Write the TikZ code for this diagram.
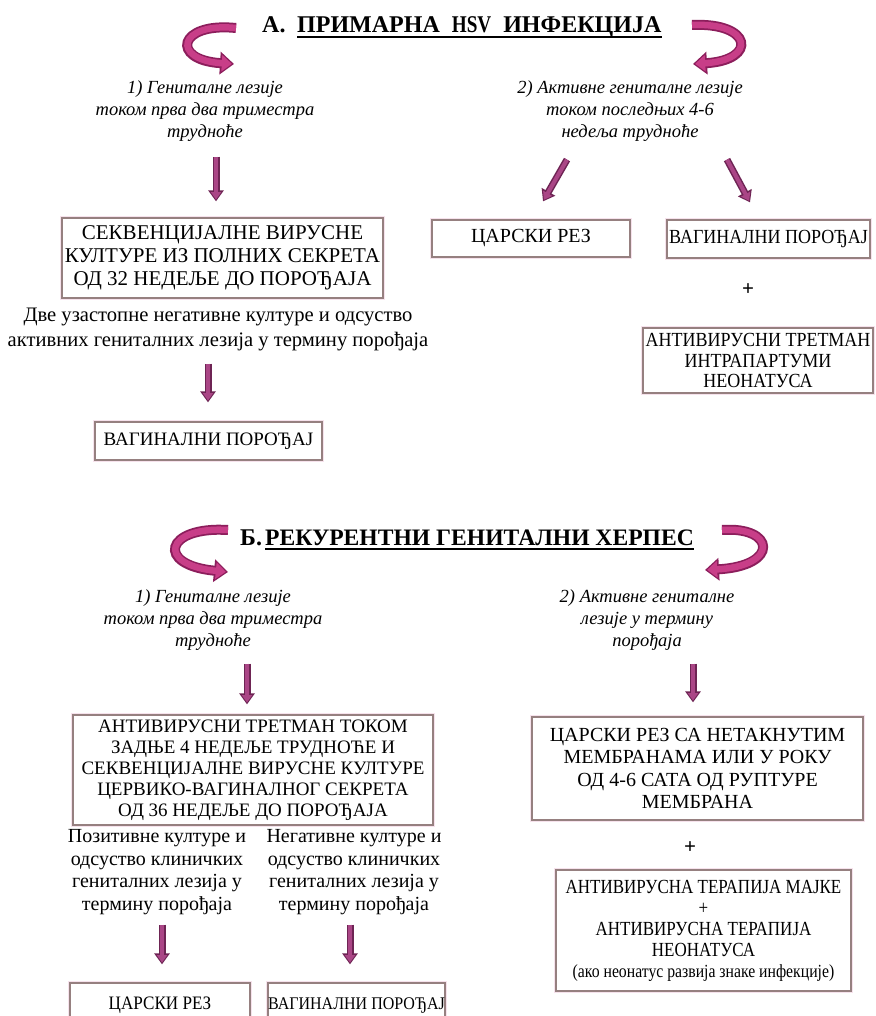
\documentclass[tikz,border=0pt]{standalone}
\usepackage{fontspec}
\usepackage{graphicx}
\setmainfont{Liberation Serif}
\newfontfamily\narrowA[FakeStretch=0.9]{Liberation Serif}
\newfontfamily\narrowB[FakeStretch=0.85]{Liberation Serif}
\usetikzlibrary{arrows.meta,calc}

\definecolor{boxline}{RGB}{150,128,128}
\definecolor{boxglow}{RGB}{246,226,236}
\definecolor{ribbon}{RGB}{200,62,136}
\definecolor{ribbondark}{RGB}{140,30,92}
\definecolor{shaft}{RGB}{170,70,134}
\definecolor{shaftdark}{RGB}{110,36,84}

\begin{document}
\begin{tikzpicture}[x=1pt,y=-1pt,
  box/.style={draw=boxline, line width=1.3pt, fill=white,
    preaction={draw=boxglow, line width=4pt},
    inner sep=0pt, align=center, anchor=center},
  subhead/.style={font=\itshape\fontsize{18.5}{22}\selectfont, align=center, inner sep=0pt},
  plain/.style={align=center, inner sep=0pt},
  titlefont/.style={font=\bfseries\fontsize{24}{26}\selectfont, inner sep=0pt},
  blockarrow/.style={draw=shaftdark, line width=7pt,
    -{Triangle[width=15pt,length=11pt]},
    postaction={draw=shaft, line width=4pt, -{Triangle[width=10pt,length=7.5pt]}, shorten >=1.8pt}},
  turnarrow/.style={draw=ribbondark, line width=10pt,
    -{Triangle[width=22pt,length=14pt]},
    postaction={draw=ribbon, line width=6.5pt, -{Triangle[width=16pt,length=10pt]}, shorten >=2.2pt}},
  plus/.style={font=\bfseries\fontsize{21}{21}\selectfont, inner sep=0pt}
]
\useasboundingbox (0,0) rectangle (875,1016);
\clip (0,0) rectangle (875,1016);
\fill[white] (0,0) rectangle (875,1016);

% ---------- A. primary infection ----------
\node[titlefont, anchor=base west] (tAa) at (262,33) {А.};
\node[titlefont, anchor=base west] (tAu) at (297,33) {ПРИМАРНА\ \ \scalebox{0.8}[1]{HSV}\ \ ИНФЕКЦИЈА};
\draw[line width=2pt] ($(tAu.base west)+(0,4)$) -- ($(tAu.base east)+(0,4)$);

\draw[turnarrow] (236,28) .. controls (178,22) and (170,60) .. (234,64);
\draw[turnarrow] (692,25) .. controls (752,22) and (758,60) .. (693,64);

\node[subhead] (sA1) at (205,111) {1) Гениталне лезије\\током прва два триместра\\трудноће};
\node[subhead] (sA2) at (630,111) {2) Активне гениталне лезије\\током последњих 4-6\\недеља трудноће};

\node[box, font=\fontsize{21}{23}\selectfont, minimum width=321pt, minimum height=80pt] (bA1) at (222.5,258)
  {СЕКВЕНЦИЈАЛНЕ ВИРУСНЕ\\КУЛТУРЕ ИЗ ПОЛНИХ СЕКРЕТА\\ОД 32 НЕДЕЉЕ ДО ПОРОЂАЈА};
\node[plain, font=\fontsize{20.6}{25}\selectfont] (nA1) at (218,329)
  {Две узастопне негативне културе и одсуство\\активних гениталних лезија у термину порођаја};
\node[box, font=\fontsize{19}{21}\selectfont, minimum width=227pt, minimum height=38pt] (bA2) at (208.5,441) {ВАГИНАЛНИ ПОРОЂАЈ};

\node[box, font=\fontsize{20}{22}\selectfont, minimum width=198pt, minimum height=37pt] (bA3) at (531,238.5) {ЦАРСКИ РЕЗ};
\node[box, font=\narrowA\fontsize{20}{22}\selectfont, minimum width=203pt, minimum height=38pt] (bA4) at (768.5,239) {ВАГИНАЛНИ ПОРОЂАЈ};
\node[plus] (pA) at (748,290) {+};
\node[box, font=\narrowA\fontsize{20}{20.5}\selectfont, minimum width=230pt, minimum height=65pt] (bA5) at (758,360.5)
  {АНТИВИРУСНИ ТРЕТМАН\\ИНТРАПАРТУМИ\\НЕОНАТУСА};

\draw[blockarrow] ($(sA1.south)+(11,15)$) -- ($(bA1.north)+(-6.5,-16)$);
\draw[blockarrow] ($(sA2.south)+(-63,18)$) -- ($(bA3.north)+(12,-18)$);
\draw[blockarrow] ($(sA2.south)+(97,18)$) -- ($(bA4.north)+(-18.5,-17)$);
\draw[blockarrow] ($(nA1.south)+(-10,13)$) -- ($(bA2.north)+(-0.5,-19)$);

% ---------- B. recurrent genital herpes ----------
\node[titlefont, anchor=base west] (tBa) at (240,545) {Б.};
\node[titlefont, font=\bfseries\fontsize{23.6}{26}\selectfont, anchor=base west] (tBu) at (265,545) {РЕКУРЕНТНИ ГЕНИТАЛНИ ХЕРПЕС};
\draw[line width=2pt] ($(tBu.base west)+(0,4)$) -- ($(tBu.base east)+(0,4)$);

\draw[turnarrow] (228,530) .. controls (165,526) and (155,565) .. (228,572);
\draw[turnarrow] (722,530) .. controls (775,526) and (780,566) .. (705,570);

\node[subhead] (sB1) at (213,620) {1) Гениталне лезије\\током прва два триместра\\трудноће};
\node[subhead] (sB2) at (647,620) {2) Активне гениталне\\лезије у термину\\порођаја};

\node[box, font=\fontsize{19}{21}\selectfont, minimum width=360pt, minimum height=110pt] (bB1) at (253,770)
  {АНТИВИРУСНИ ТРЕТМАН ТОКОМ\\ЗАДЊЕ 4 НЕДЕЉЕ ТРУДНОЋЕ И\\СЕКВЕНЦИЈАЛНЕ ВИРУСНЕ КУЛТУРЕ\\ЦЕРВИКО-ВАГИНАЛНОГ СЕКРЕТА\\ОД 36 НЕДЕЉЕ ДО ПОРОЂАЈА};
\node[plain, font=\fontsize{20}{22.5}\selectfont] (nB1) at (157,872)
  {Позитивне културе и\\одсуство клиничких\\гениталних лезија у\\термину порођаја};
\node[plain, font=\fontsize{20}{22.5}\selectfont] (nB2) at (354,872)
  {Негативне културе и\\одсуство клиничких\\гениталних лезија у\\термину порођаја};
\node[box, font=\narrowA\fontsize{19}{20}\selectfont, minimum width=180pt, minimum height=44pt] (bB4) at (160,1005) {ЦАРСКИ РЕЗ};
\node[box, font=\narrowA\fontsize{17.8}{20}\selectfont, minimum width=177pt, minimum height=44pt] (bB5) at (356.5,1005) {ВАГИНАЛНИ ПОРОЂАЈ};

\node[box, font=\fontsize{20}{22.3}\selectfont, minimum width=331pt, minimum height=103pt] (bB2) at (697.5,768.5)
  {ЦАРСКИ РЕЗ СА НЕТАКНУТИМ\\МЕМБРАНАМА ИЛИ У РОКУ\\ОД 4-6 САТА ОД РУПТУРЕ\\МЕМБРАНА};
\node[plus] (pB) at (690,848) {+};
\node[box, font=\narrowB\fontsize{20}{21}\selectfont, minimum width=295pt, minimum height=121pt] (bB3) at (703.5,930.5)
  {АНТИВИРУСНА ТЕРАПИЈА МАЈКЕ\\+\\АНТИВИРУСНА ТЕРАПИЈА\\НЕОНАТУСА\\{\fontsize{18.5}{21}\selectfont(ако неонатус развија знаке инфекције)}};

\draw[blockarrow] ($(sB1.south)+(34,13)$) -- ($(bB1.north)+(-6,-10)$);
\draw[blockarrow] ($(sB2.south)+(46,13)$) -- ($(bB2.north)+(-4.5,-14)$);
\draw[blockarrow] ($(nB1.south)+(5,10)$) -- ($(bB4.north)+(2,-18)$);
\draw[blockarrow] ($(nB2.south)+(-4,10)$) -- ($(bB5.north)+(-6.5,-18)$);
\end{tikzpicture}
\end{document}
